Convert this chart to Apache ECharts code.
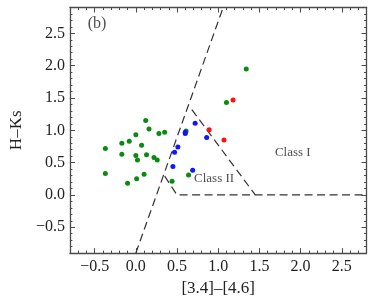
<!DOCTYPE html>
<html>
<head>
<meta charset="utf-8">
<script src="https://cdn.jsdelivr.net/npm/echarts@6/dist/echarts.min.js"></script>
<style>html,body{margin:0;padding:0;background:#fff}#c{width:374px;height:302px}</style>
</head>
<body>
<div id="c"></div>
<script>
// ---- data ----
const greenPts = [
  [-0.37,0.72],[-0.37,0.33],[-0.17,0.80],[-0.08,0.83],[-0.17,0.63],[0.00,0.93],
  [0.12,1.15],[0.16,1.02],[0.07,0.77],[0.00,0.61],[0.02,0.54],[0.13,0.62],
  [0.22,0.58],[0.26,0.54],[0.28,0.95],[0.35,0.97],[-0.10,0.18],[0.01,0.25],
  [0.10,0.32],[0.44,0.21],[0.61,0.99],[0.64,0.31],[1.10,1.43],[1.34,1.95]
];
const bluePts = [
  [0.45,0.44],[0.47,0.66],[0.51,0.74],[0.60,0.95],[0.60,0.97],[0.72,1.11],[0.86,0.89],[0.69,0.38]
];
const redPts = [
  [1.18,1.47],[0.89,1.01],[1.07,0.85]
];
const reddeningLine = [[0.00,-0.90],[1.06,2.90]];
const class2Lower = [[0.35,0.29],[0.50,0.00],[2.80,0.00]];
const class1Edge = [[0.68,1.32],[1.45,0.00]];
const majorTicksX = [-0.5,0,0.5,1,1.5,2,2.5];
const majorTicksY = [-0.5,0,0.5,1,1.5,2,2.5];
const textLabels = [
  {name:'Class I', value:[1.905,0.656]},
  {name:'Class II', value:[0.95,0.256]}
];
const panelLabel = [{name:'(b)', value:[-0.47,2.645]}];

const X_MIN=-0.8, X_MAX=2.8, Y_MIN=-0.9, Y_MAX=2.9;
const FONT = '"Liberation Serif","DejaVu Serif",serif';
const frameColor = '#4a4a4a';
const fmt = v => (v < 0 ? '\u2212' : '') + Math.abs(v).toFixed(1);

function minorAxis(pos, isX){
  return {
    type:'value', position:pos, min:isX?X_MIN:Y_MIN, max:isX?X_MAX:Y_MAX, interval:0.1,
    axisLine:{show:true, onZero:false, lineStyle:{color:frameColor, width:1.3}},
    axisTick:{show:true, inside:true, length:2.5, lineStyle:{color:frameColor, width:1}},
    axisLabel:{show:false}, splitLine:{show:false}
  };
}
function majorAxis(pos, isX, showLabel){
  const ticks = isX?majorTicksX:majorTicksY;
  return {
    type:'value', position:pos, min:isX?X_MIN:Y_MIN, max:isX?X_MAX:Y_MAX, interval:0.1,
    axisLine:{show:false, onZero:false},
    axisTick:{show:true, inside:true, length:5, customValues:ticks, lineStyle:{color:frameColor, width:1}},
    axisLabel:{show:showLabel, customValues:ticks, formatter:fmt, color:'#222',
      fontFamily:FONT, fontSize:16, margin:isX?6:5},
    splitLine:{show:false}
  };
}

const xAxes = [minorAxis('bottom',true), majorAxis('bottom',true,true), minorAxis('top',true), majorAxis('top',true,false)];
const yAxes = [minorAxis('left',false), majorAxis('left',false,true), minorAxis('right',false), majorAxis('right',false,false)];
Object.assign(xAxes[1], {name:'[3.4]\u2013[4.6]', nameLocation:'middle', nameGap:24,
  nameTextStyle:{fontFamily:FONT, fontSize:17, color:'#222'}});
Object.assign(yAxes[1], {name:'H\u2013Ks', nameLocation:'middle', nameGap:42, nameRotate:90,
  nameTextStyle:{fontFamily:FONT, fontSize:17, color:'#222'}});

const dashStyle = {color:'#333', width:1.2, type:[8,4.5]};
function dashed(data){
  return {type:'line', data:data, xAxisIndex:0, yAxisIndex:0, symbol:'none', silent:true,
    lineStyle:dashStyle, z:1};
}
function pts(data, color){
  return {type:'scatter', data:data, xAxisIndex:0, yAxisIndex:0, symbolSize:5,
    itemStyle:{color:color, opacity:1}, z:3};
}
function texts(data, size){
  return {type:'scatter', data:data, xAxisIndex:0, yAxisIndex:0, symbolSize:0, silent:true,
    label:{show:true, position:'inside', formatter:p=>p.name, fontFamily:FONT, fontSize:size, color:'#222'}, z:4};
}

const chart = echarts.init(document.getElementById('c'), null, {renderer:'canvas'});
chart.setOption({
  animation:false,
  backgroundColor:'#fff',
  grid:{left:67, right:7.5, top:7.5, bottom:48, containLabel:false},
  xAxis:xAxes, yAxis:yAxes,
  series:[
    dashed(reddeningLine), dashed(class2Lower), dashed(class1Edge),
    pts(greenPts,'#0b8a12'), pts(bluePts,'#1414ff'), pts(redPts,'#ff1010'),
    texts(textLabels,13), texts(panelLabel,16)
  ]
});
</script>
</body>
</html>
